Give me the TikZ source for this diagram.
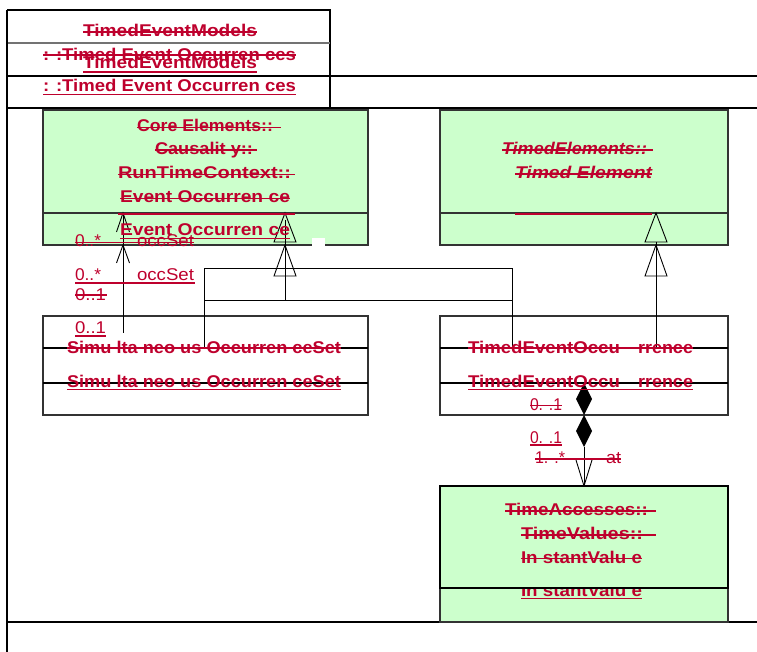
\documentclass[tikz,border=0pt]{standalone}
\usepackage{fontspec}
\setmainfont{Liberation Sans}
\usepackage{graphicx}
\usetikzlibrary{calc}
\definecolor{crim}{RGB}{190,0,45}
\definecolor{umlgreen}{RGB}{204,255,204}
\newcommand{\fw}[2]{\resizebox{#1pt}{\height}{#2}}
\begin{document}
\begin{tikzpicture}[x=1pt,y=-1pt,
  frameline/.style={black, line width=1.1pt},
  umlbox/.style={draw=black!80, line width=1.1pt, inner sep=0pt, outer sep=0pt, anchor=north west},
  gbox/.style={fill=umlgreen},
  divline/.style={black!80, line width=1.1pt},
  lbl/.style={anchor=base west, inner sep=0pt, outer sep=0pt, text=crim, font=\fontsize{17}{20}\selectfont\bfseries},
  lblr/.style={lbl, font=\fontsize{17}{20}\selectfont},
  lbli/.style={lbl, font=\fontsize{17}{20}\selectfont\bfseries\itshape},
  rl/.style={crim, line width=1.6pt},
  rlthick/.style={crim, line width=2.6pt},
  conn/.style={black, line width=0.9pt}
]
\useasboundingbox (0,0) rectangle (757,652);
\fill[white] (0,0) rectangle (757,652);

% frame
\draw[frameline] (7,10) -- (330,10) -- (330,108);
\draw[frameline, black!55] (7,43) -- (330,43);
\draw[frameline] (7,76) -- (757,76);
\draw[frameline] (7,108) -- (757,108);
\draw[frameline] (7,622) -- (757,622);
\draw[black, line width=2pt] (7,10) -- (7,652);

% boxes
\node[umlbox, gbox, minimum width=325, minimum height=135] (eo) at (43,110) {};
\draw[divline] ($(eo.north west)+(0,103)$) -- ($(eo.north east)+(0,103)$);
\node[umlbox, gbox, minimum width=288, minimum height=135] (te) at (440,110) {};
\draw[divline] ($(te.north west)+(0,103)$) -- ($(te.north east)+(0,103)$);

\node[umlbox, minimum width=325, minimum height=99] (sos) at (43,316) {};
\draw[divline, black] ($(sos.north west)+(0,32)$) -- ($(sos.north east)+(0,32)$);
\draw[divline, black] ($(sos.north west)+(0,67)$) -- ($(sos.north east)+(0,67)$);
\node[umlbox, minimum width=288, minimum height=99] (teo) at (440,316) {};
\draw[divline, black] ($(teo.north west)+(0,32)$) -- ($(teo.north east)+(0,32)$);
\draw[divline, black] ($(teo.north west)+(0,67)$) -- ($(teo.north east)+(0,67)$);

% generalizations to EventOccurrence
\coordinate (eoT1) at (285,213);
\coordinate (eoT2) at (285,245);
\coordinate (genJ) at (285,300);
\coordinate (sosG) at (204,348);
\coordinate (teoG) at (512,348);
\draw[conn] (eoT1) -- ++(-11,29) -- ++(22,0) -- cycle;
\draw[conn] (eoT2) -- ++(-11,31) -- ++(22,0) -- cycle;
\draw[conn] ($(eoT1)+(0,7)$) -- (genJ);
\draw[conn] (sosG) -- (sosG |- 0,268) -- (teoG |- 0,268) -- (teoG);
\draw[conn] (sosG |- genJ) -- (teoG |- genJ);

% generalization to TimedElement
\coordinate (teT1) at (656,213);
\coordinate (teT2) at (656,245);
\coordinate (teoT) at (656,348);
\draw[conn] (teT1) -- ++(-11,29) -- ++(22,0) -- cycle;
\draw[conn] (teT2) -- ++(-11,31) -- ++(22,0) -- cycle;
\draw[conn] ($(teT1)+(0,29)$) -- (teoT);

% association occSet
\coordinate (asA) at (123,213);
\coordinate (asB) at (123,245);
\coordinate (asS) at (123,333);
\draw[conn] (asA) -- (asS);
\draw[conn] ($(asA)+(-6.5,19)$) -- (asA) -- ($(asA)+(6.5,19)$);
\draw[conn] ($(asB)+(-6.5,18)$) -- (asB) -- ($(asB)+(6.5,18)$);

% composition
\coordinate (cd1) at (584,383);
\coordinate (cd2) at (584,415);
\coordinate (ivTip) at (584,486);
\fill[black] (cd1) -- ++(8,16) -- ++(-8,16) -- ++(-8,-16) -- cycle;
\fill[black] (cd2) -- ++(8,16) -- ++(-8,16) -- ++(-8,-16) -- cycle;
\draw[conn] ($(cd2)+(0,32)$) -- (ivTip);
\draw[conn] ($(ivTip)+(-8,-26)$) -- (ivTip) -- ($(ivTip)+(8,-26)$);

% hidden labels under InstantValue
\node[lblr] (m5u) at (535,498) {\fw{30}{1. .*}};
\node[lblr] (at5u) at (606,498) {\fw{15}{at}};

% InstantValue box
\node[umlbox, gbox, minimum width=288, minimum height=136] (iv) at (440,486) {};
\node[lbl] (i4) at (521,596) {\fw{121}{In stantValu e}};
\draw[rl] (521,598.5) -- (642,598.5);
\node[umlbox, gbox, draw=black, minimum width=288, minimum height=102] (ivtop) at (440,486) {};
\node[lbl] (i1) at (505,515) {\fw{143}{TimeAccesses::}};
\draw[rl] (505,511) -- (656,511);
\node[lbl] (i2) at (521,539) {\fw{122}{TimeValues::}};
\draw[rl] (521,535) -- (656,535);
\node[lbl] (i3) at (521,563) {\fw{121}{In stantValu e}};
\draw[rl] (521,558.5) -- (642,558.5);

% tab labels
\node[lbl] (t1) at (83,37) {\fw{174}{TimedEventModels}};
\draw[rl] (83,32) -- (257,32);
\node[lbl] (t2) at (43,61) {\fw{253}{: :Timed Event Occurren ces}};
\draw[rl] (43,55) -- (296,55);
\node[lbl] (t3) at (83,69) {\fw{174}{TimedEventModels}};
\draw[rl] (83,72) -- (257,72);
\node[lbl] (t4) at (43,92) {\fw{253}{: :Timed Event Occurren ces}};
\draw[rl] (43,94.5) -- (296,94.5);

% EventOccurrence labels
\node[lbl] (e1) at (137,132) {\fw{136}{Core Elements::}};
\draw[rl] (137,127.5) -- (281,127.5);
\node[lbl] (e2) at (155,155) {\fw{98}{Causalit y::}};
\draw[rl] (155,150) -- (257,150);
\node[lbl] (e3) at (118,179) {\fw{173}{RunTimeContext::}};
\draw[rl] (118,174.5) -- (295,174.5);
\node[lbl] (e4) at (120,203) {\fw{170}{Event Occurren ce}};
\draw[rl] (120,198.5) -- (290,198.5);
\draw[rlthick] (118,214) -- (295,214);
\node[lbl] (e5) at (120,236) {\fw{170}{Event Occurren ce}};
\draw[rl] (120,238.5) -- (290,238.5);
\fill[white] (312,238) rectangle (325,248);

% TimedElement labels
\node[lbli] (te1) at (502,155) {\fw{145}{TimedElements::}};
\draw[rl] (502,150) -- (653,150);
\node[lbli] (te2) at (515,179) {\fw{137}{Timed Element}};
\draw[rl] (515,174) -- (652,174);
\draw[rlthick] (515,214) -- (652,214);

% association labels
\node[lblr] (l1a) at (75,247) {\fw{26}{0..*}};
\node[lblr] (l1b) at (137,247) {\fw{57}{occSet}};
\draw[rl] (75,242.5) -- (194,242.5);
\node[lblr] (l2a) at (75,280) {\fw{26}{0..*}};
\node[lblr] (l2b) at (137,280) {\fw{57}{occSet}};
\draw[rl] (75,283) -- (195,283);
\node[lblr] (l3) at (75,300) {\fw{31}{0..1}};
\draw[rl] (75,295) -- (107,295);
\node[lblr] (l4) at (75,333) {\fw{31}{0..1}};
\draw[rl] (75,336) -- (106,336);

% SimultaneousOccurrenceSet labels
\node[lbl] (s1) at (67,353) {\fw{274}{Simu lta neo us Occurren ceSet}};
\draw[rl] (67,348) -- (341,348);
\node[lbl] (s2) at (67,387) {\fw{274}{Simu lta neo us Occurren ceSet}};
\draw[rl] (67,389.5) -- (341,389.5);

% TimedEventOccurrence labels
\node[lbl] (o1a) at (468,353) {\fw{152}{TimedEventOccu}};
\node[lbl] (o1b) at (638,353) {\fw{55}{rrence}};
\draw[rl] (468,348) -- (693,348);
\node[lbl] (o2a) at (468,387) {\fw{152}{TimedEventOccu}};
\node[lbl] (o2b) at (638,387) {\fw{55}{rrence}};
\draw[rl] (468,389.5) -- (693,389.5);

% composition labels
\node[lblr] (o3) at (530,410) {\fw{32}{0. .1}};
\draw[rl] (530,405.5) -- (562,405.5);
\node[lblr] (o4) at (530,443) {\fw{32}{0. .1}};
\draw[rl] (530,445) -- (562,445);
\node[lblr] (o5a) at (535,463) {\fw{30}{1. .*}};
\node[lblr] (o5b) at (606,463) {\fw{15}{at}};
\draw[rl] (535,459) -- (621,459);
\end{tikzpicture}
\end{document}
